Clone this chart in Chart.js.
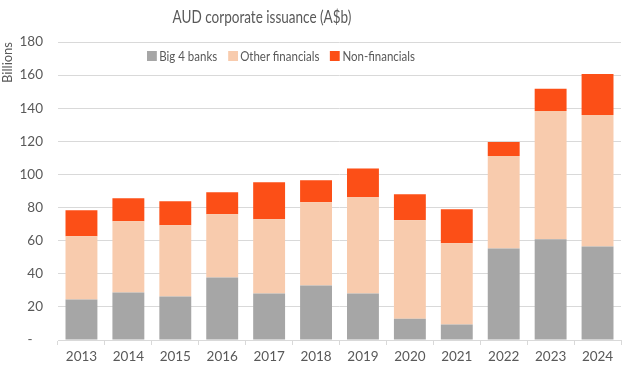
<!DOCTYPE html>
<html>
<head>
<meta charset="utf-8">
<script src="https://cdn.jsdelivr.net/npm/chart.js@4/dist/chart.umd.min.js"></script>
<style>
  html, body { margin: 0; padding: 0; background: #ffffff; }
  #wrap { position: relative; width: 628px; height: 380px; font-family: Lato, "Open Sans", sans-serif; color: #595959; }
  #chart { position: absolute; left: 0; top: 0; }
  #title { position: absolute; left: 0; top: 6px; width: 524px; text-align: center; font-size: 16.5px; line-height: 22px; color: #595959; transform: scaleX(0.82); transform-origin: 262px 0; }
  #legend { position: absolute; left: 147px; top: 48px; display: flex; gap: 13px; font-size: 14px; line-height: 16px; color: #595959; transform: scaleX(0.82); transform-origin: 0 0; }
  .item { display: flex; align-items: center; }
  .box { width: 12px; height: 10px; margin-right: 3px; }
</style>
</head>
<body>
<div id="wrap">
  <canvas id="chart" width="628" height="380"></canvas>
  <div id="title">AUD corporate issuance (A$b)</div>
  <div id="legend"></div>
</div>
<script>
const years = ['2013','2014','2015','2016','2017','2018','2019','2020','2021','2022','2023','2024'];
const big4Banks = [24.4, 28.7, 26.2, 37.8, 28.1, 32.9, 28.1, 12.9, 9.3, 55.3, 60.8, 56.5];
const otherFinancials = [38.2, 43.0, 43.1, 38.1, 44.8, 50.3, 58.1, 59.4, 49.1, 55.8, 77.5, 79.4];
const nonFinancials = [15.8, 13.9, 14.5, 13.4, 22.4, 13.3, 17.4, 15.8, 20.6, 8.5, 13.4, 24.7];
const seriesNames = ['Big 4 banks', 'Other financials', 'Non-financials'];
const seriesColors = ['#a6a6a6', '#f8cbad', '#fc4f17'];
const yTickValues = [0, 20, 40, 60, 80, 100, 120, 140, 160, 180];

const FONT = 'Lato, "Open Sans", sans-serif';
const TXT = '#595959';
const GRID = '#d9d9d9';

const datasets = [big4Banks, otherFinancials, nonFinancials].map((d, i) => ({
  label: seriesNames[i],
  data: d,
  backgroundColor: seriesColors[i],
  borderWidth: 0,
  barPercentage: 0.68,
  categoryPercentage: 1.0
}));

// HTML legend built from the datasets
const legendEl = document.getElementById('legend');
datasets.forEach(ds => {
  const it = document.createElement('div');
  it.className = 'item';
  const b = document.createElement('span');
  b.className = 'box';
  b.style.background = ds.backgroundColor;
  const t = document.createElement('span');
  t.textContent = ds.label;
  it.appendChild(b); it.appendChild(t);
  legendEl.appendChild(it);
});

new Chart(document.getElementById('chart'), {
  type: 'bar',
  data: { labels: years, datasets: datasets },
  options: {
    responsive: false,
    animation: false,
    layout: { padding: { top: 42, right: 7, bottom: 0, left: 0 } },
    plugins: {
      legend: { display: false },
      title: { display: false },
      tooltip: { enabled: false }
    },
    scales: {
      x: {
        stacked: true,
        offset: true,
        grid: { display: true, drawOnChartArea: false, drawTicks: true, tickLength: 5, color: GRID, offset: true },
        border: { display: true, color: GRID, width: 1 },
        ticks: { color: TXT, font: { family: FONT, size: 13.5 }, padding: 4, maxRotation: 0 },
        afterFit: s => { s.height = 40; }
      },
      y: {
        stacked: true,
        min: 0,
        max: 180,
        afterBuildTicks: s => { s.ticks = yTickValues.map(v => ({ value: v })); },
        grid: { color: GRID, drawTicks: false, lineWidth: 1 },
        border: { display: false },
        ticks: {
          color: TXT,
          font: { family: FONT, size: 13.5 },
          padding: 15,
          callback: v => v === 0 ? '-   ' : String(v)
        },
        title: {
          display: true,
          text: 'Billions',
          align: 'end',
          color: TXT,
          font: { family: FONT, size: 13 },
          padding: { top: 0, bottom: 0 }
        },
        afterFit: s => { s.width = 58; }
      }
    }
  }
});
</script>
</body>
</html>
